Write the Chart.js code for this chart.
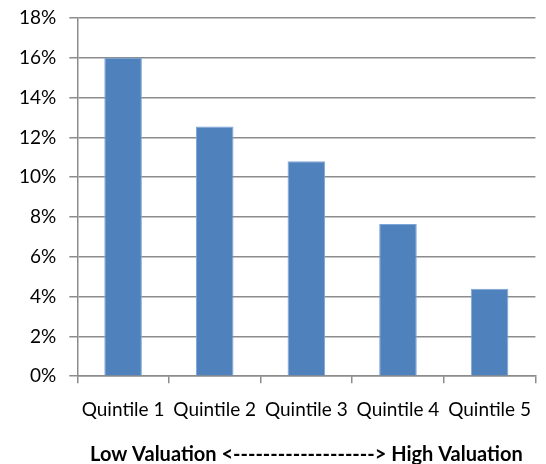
<!DOCTYPE html>
<html>
<head>
<meta charset="utf-8">
<script src="https://cdn.jsdelivr.net/npm/chart.js@4"></script>
<style>
  html, body { margin: 0; padding: 0; background: #fff; }
  canvas { display: block; }
</style>
</head>
<body>
<canvas id="valuationChart" width="546" height="464"></canvas>
<script>
const quintiles = ['Quintile 1', 'Quintile 2', 'Quintile 3', 'Quintile 4', 'Quintile 5'];
const returns = [16.0, 12.55, 10.8, 7.65, 4.4];
const axisTitle = 'Low Valuation <-------------------> High Valuation';

const gridGray = '#8c8c8c';

const ctx = document.getElementById('valuationChart').getContext('2d');
new Chart(ctx, {
    type: 'bar',
    data: {
        labels: quintiles,
        datasets: [{
            label: 'Return',
            data: returns,
            backgroundColor: '#4f81bd',
            borderColor: '#7ea6d8',
            borderWidth: { top: 1, left: 1, right: 1, bottom: 0 },
            categoryPercentage: 1,
            barPercentage: 0.41
        }]
    },
    options: {
        responsive: false,
        animation: false,
        layout: {
            padding: { top: 0, left: 6, right: 0, bottom: -3 }
        },
        plugins: {
            legend: { display: false },
            tooltip: { enabled: false }
        },
        scales: {
            x: {
                grid: {
                    drawOnChartArea: false,
                    drawTicks: true,
                    tickLength: 7,
                    color: gridGray,
                    lineWidth: 1.5
                },
                border: { display: true, color: gridGray, width: 1.5 },
                ticks: {
                    color: '#000',
                    padding: 15,
                    maxRotation: 0,
                    font: { family: 'Lato', size: 19 }
                },
                title: {
                    display: true,
                    text: axisTitle,
                    color: '#000',
                    padding: { top: 7, bottom: 0 },
                    font: { family: 'Lato', size: 20, weight: 'bold' }
                }
            },
            y: {
                min: 0,
                max: 18,
                afterFit: scale => { scale.paddingTop = 18; },
                ticks: {
                    stepSize: 2,
                    color: '#000',
                    padding: 13,
                    font: { family: 'Lato', size: 19 },
                    callback: value => value + '%'
                },
                grid: {
                    color: gridGray,
                    lineWidth: 1.5,
                    tickLength: 8
                },
                border: { display: true, color: gridGray, width: 1.5 }
            }
        }
    }
});
</script>
</body>
</html>
